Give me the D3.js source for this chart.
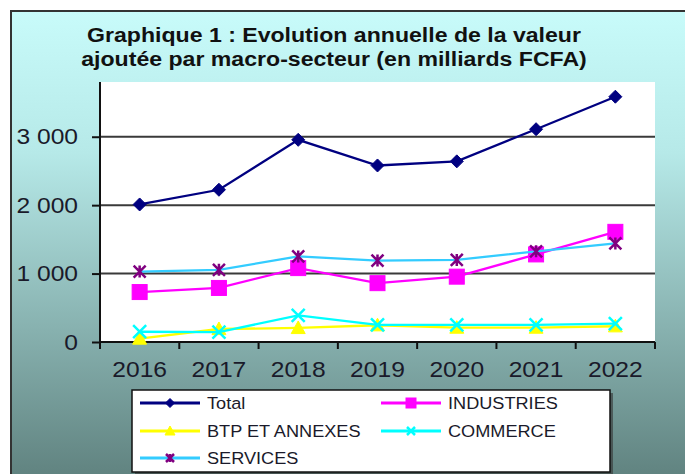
<!DOCTYPE html>
<html>
<head>
<meta charset="utf-8">
<script src="https://cdn.jsdelivr.net/npm/d3@7"></script>
<style>
  html, body { margin: 0; padding: 0; background: #ffffff; }
  svg { display: block; font-family: "Liberation Sans", Arial, sans-serif; }
</style>
</head>
<body>
<svg id="chart" width="685" height="474"></svg>
<script>
// ---- data ----
const years = ["2016", "2017", "2018", "2019", "2020", "2021", "2022"];
const total      = [2010, 2225, 2955, 2580, 2640, 3110, 3585];
const industries = [730, 790, 1080, 860, 955, 1280, 1610];
const btp        = [50, 190, 205, 245, 210, 210, 230];
const commerce   = [150, 145, 390, 250, 250, 250, 270];
const services   = [1030, 1055, 1250, 1190, 1200, 1325, 1440];
const yTicks     = [0, 1000, 2000, 3000];
const titleLines = ["Graphique 1 : Evolution annuelle de la valeur",
                    "ajoutée par macro-secteur (en milliards FCFA)"];

const seriesDefs = [
  { name: "Total",          values: total,      line: "#000080", marker: "diamond",  fill: "#000080", stroke: "#000080" },
  { name: "INDUSTRIES",     values: industries, line: "#ff00ff", marker: "square",   fill: "#ff00ff", stroke: "#ff00ff" },
  { name: "BTP ET ANNEXES", values: btp,        line: "#ffff00", marker: "triangle", fill: "#ffff00", stroke: "#ffff00" },
  { name: "COMMERCE",       values: commerce,   line: "#00ffff", marker: "x",        fill: "none",    stroke: "#00ffff" },
  { name: "SERVICES",       values: services,   line: "#33ccff", marker: "star",     fill: "none",    stroke: "#800080" }
];

const svg = d3.select("#chart");
const W = 685, H = 474;
const SX = 1.12; // horizontal stretch of the reference lettering

// background gradient
const defs = svg.append("defs");
const grad = defs.append("linearGradient").attr("id", "bg").attr("x1", 0).attr("y1", 0).attr("x2", 0).attr("y2", 1);
grad.append("stop").attr("offset", "0%").attr("stop-color", "#c8fbfa");
grad.append("stop").attr("offset", "30%").attr("stop-color", "#b6e9e8");
grad.append("stop").attr("offset", "100%").attr("stop-color", "#5e807d");

svg.append("rect").attr("x", 11).attr("y", 11).attr("width", W).attr("height", H)
  .attr("fill", "url(#bg)").attr("stroke", "#333").attr("stroke-width", 2);

// title
svg.append("text").attr("transform", `translate(334,0) scale(1.1,1)`).attr("text-anchor", "middle")
  .attr("font-size", 21).attr("font-weight", "bold").attr("fill", "#111")
  .selectAll("tspan").data(titleLines).join("tspan")
  .attr("x", 0).attr("y", (d, i) => i === 0 ? 42 : 66).text(d => d);

// plot area
const plot = { left: 100, right: 655, top: 82, bottom: 342 };
const x = d3.scaleBand().domain(years).range([plot.left, plot.right]).padding(0);
const y = d3.scaleLinear().domain([0, 3800]).range([plot.bottom, plot.top]);

svg.append("rect").attr("x", plot.left).attr("y", plot.top)
  .attr("width", plot.right - plot.left).attr("height", plot.bottom - plot.top)
  .attr("fill", "#fff");

// gridlines
svg.append("g").selectAll("line").data(yTicks.filter(d => d > 0)).join("line")
  .attr("x1", plot.left).attr("x2", plot.right)
  .attr("y1", d => y(d)).attr("y2", d => y(d))
  .attr("stroke", "#3a3a3a").attr("stroke-width", 2);

// y axis
const loc = d3.formatLocale({ decimal: ",", thousands: " ", grouping: [3], currency: ["", ""] });
const fmt = loc.format(",d");
const yAxis = svg.append("g").attr("transform", `translate(${plot.left},0)`)
  .call(d3.axisLeft(y).tickValues(yTicks).tickFormat(fmt).tickSize(8).tickPadding(11.6));
yAxis.select(".domain").attr("stroke", "#111").attr("stroke-width", 2).attr("d", `M0,${plot.top}V${plot.bottom}`);
yAxis.selectAll(".tick line").attr("stroke", "#111").attr("stroke-width", 2);
yAxis.selectAll(".tick text").attr("font-size", 22).attr("fill", "#1a1a2a")
  .attr("font-family", "'Liberation Sans', Arial, sans-serif")
  .attr("transform", `scale(${SX},1)`);

// x axis
const xAxis = svg.append("g").attr("transform", `translate(0,${plot.bottom})`)
  .call(d3.axisBottom(x).tickSize(0).tickPadding(19));
xAxis.select(".domain").attr("stroke", "#111").attr("stroke-width", 2).attr("d", `M${plot.left},0H${plot.right}`);
xAxis.selectAll(".tick text").attr("font-size", 22).attr("fill", "#1a1a2a")
  .attr("font-family", "'Liberation Sans', Arial, sans-serif")
  .attr("transform", `scale(${SX},1)`);
const bounds = years.map(d => x(d)).concat([x(years[years.length - 1]) + x.bandwidth()]);
xAxis.selectAll("line.bt").data(bounds).join("line").attr("class", "bt")
  .attr("x1", d => d).attr("x2", d => d).attr("y1", 0).attr("y2", 7)
  .attr("stroke", "#111").attr("stroke-width", 2);

// marker drawing
function drawMarker(g, type, cx, cy, s, fill, stroke) {
  const h = s / 2;
  if (type === "diamond") {
    g.append("path").attr("d", `M${cx},${cy - h}L${cx + h},${cy}L${cx},${cy + h}L${cx - h},${cy}Z`)
      .attr("fill", fill).attr("stroke", stroke).attr("stroke-width", 1);
  } else if (type === "square") {
    g.append("rect").attr("x", cx - h).attr("y", cy - h).attr("width", s).attr("height", s)
      .attr("fill", fill).attr("stroke", stroke).attr("stroke-width", 1);
  } else if (type === "triangle") {
    g.append("path").attr("d", `M${cx},${cy - h}L${cx + h},${cy + h * 0.8}L${cx - h},${cy + h * 0.8}Z`)
      .attr("fill", fill).attr("stroke", stroke).attr("stroke-width", 1);
  } else if (type === "x") {
    g.append("path").attr("d", `M${cx - h},${cy - h}L${cx + h},${cy + h}M${cx - h},${cy + h}L${cx + h},${cy - h}`)
      .attr("fill", "none").attr("stroke", stroke).attr("stroke-width", 2.5);
  } else if (type === "star") {
    g.append("path").attr("d", `M${cx - h},${cy - h}L${cx + h},${cy + h}M${cx - h},${cy + h}L${cx + h},${cy - h}M${cx},${cy - h}V${cy + h}`)
      .attr("fill", "none").attr("stroke", stroke).attr("stroke-width", 2.5);
  }
}
const markerSize = { diamond: 13, square: 15, triangle: 14, x: 13, star: 12 };

// series
const line = d3.line().x((d, i) => x(years[i]) + x.bandwidth() / 2).y(d => y(d));
seriesDefs.forEach(s => {
  const g = svg.append("g");
  g.append("path").attr("d", line(s.values)).attr("fill", "none")
    .attr("stroke", s.line).attr("stroke-width", 2.3);
  s.values.forEach((v, i) => {
    drawMarker(g, s.marker, x(years[i]) + x.bandwidth() / 2, y(v), markerSize[s.marker], s.fill, s.stroke);
  });
});

// legend
const lg = svg.append("g");
const lb = { x: 132, y: 390, w: 478, h: 82 };
lg.append("rect").attr("x", lb.x + 3).attr("y", lb.y + 3).attr("width", lb.w).attr("height", lb.h).attr("fill", "#333").attr("opacity", 0.6);
lg.append("rect").attr("x", lb.x).attr("y", lb.y).attr("width", lb.w).attr("height", lb.h)
  .attr("fill", "#fff").attr("stroke", "#111").attr("stroke-width", 1.5);
const legendPos = [
  { lx: 140, ty: 403 }, { lx: 381, ty: 403 },
  { lx: 140, ty: 431 }, { lx: 381, ty: 431 },
  { lx: 140, ty: 458 }
];
const legSize = { diamond: 9, square: 10, triangle: 10, x: 8, star: 8 };
seriesDefs.forEach((s, i) => {
  const p = legendPos[i];
  const g = lg.append("g");
  g.append("line").attr("x1", p.lx).attr("x2", p.lx + 60).attr("y1", p.ty).attr("y2", p.ty)
    .attr("stroke", s.line).attr("stroke-width", 3);
  drawMarker(g, s.marker, p.lx + 30, p.ty, legSize[s.marker], s.fill, s.stroke);
  g.append("text").attr("transform", `translate(${p.lx + 67},${p.ty}) scale(1.1,1)`)
    .attr("x", 0).attr("y", 0).attr("dy", "0.36em")
    .attr("font-size", 16.5).attr("fill", "#1a1a2a").text(s.name);
});
</script>
</body>
</html>
